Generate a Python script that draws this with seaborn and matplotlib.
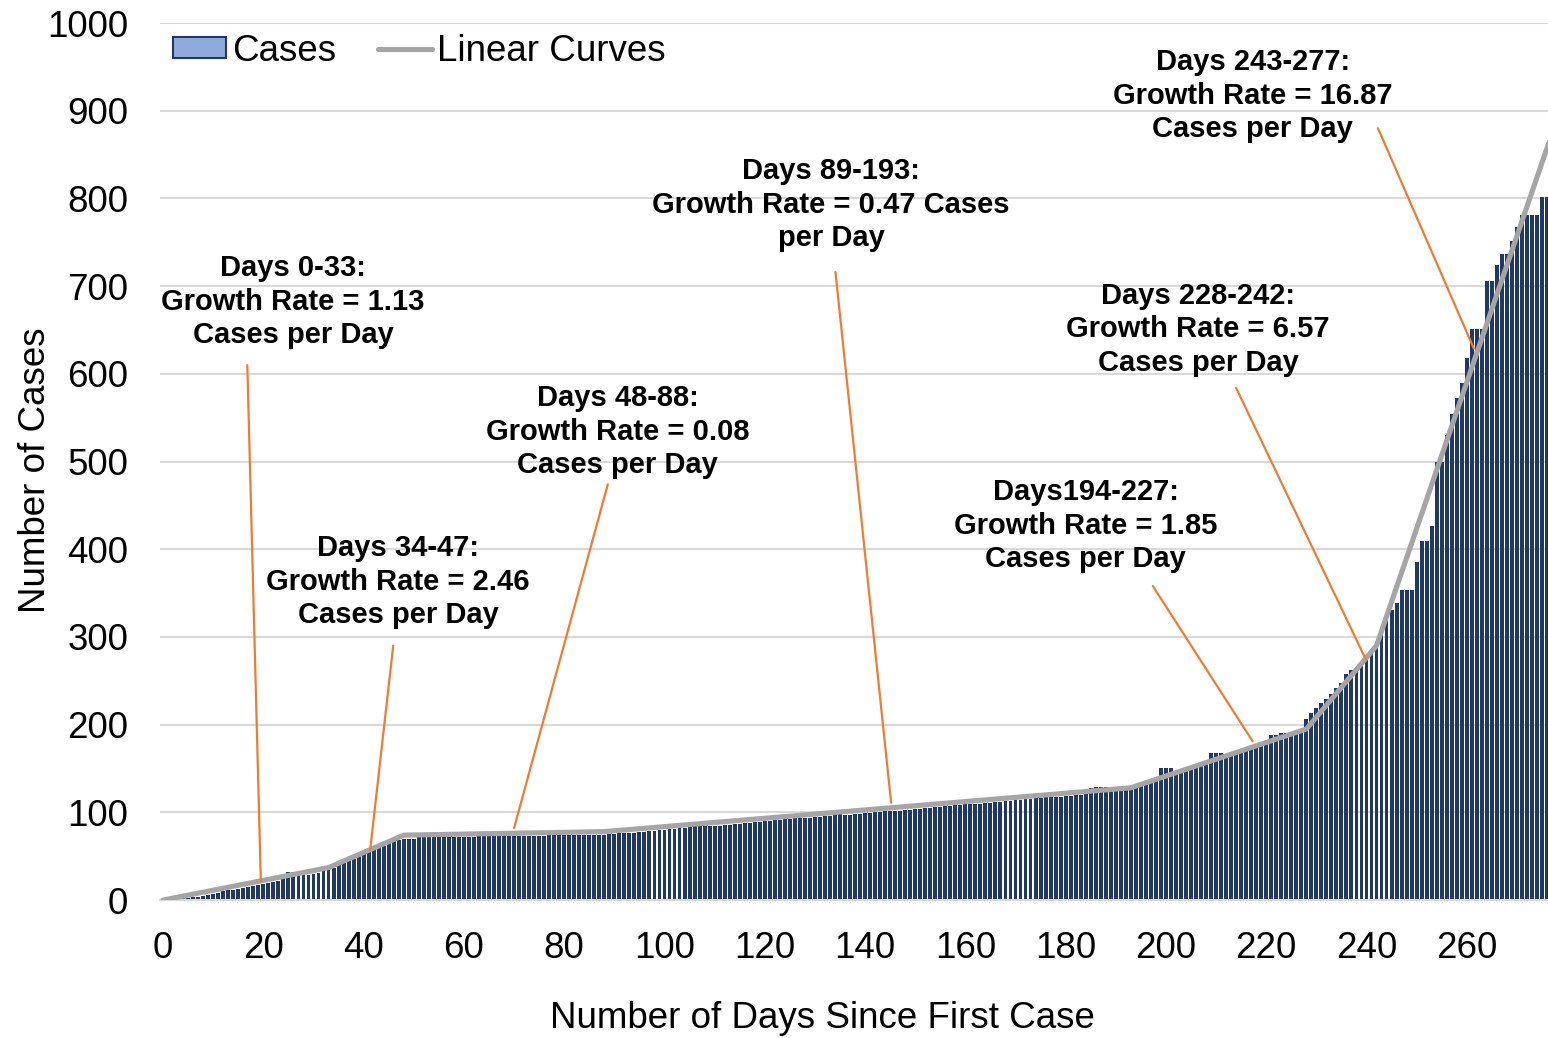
import numpy as np
import pandas as pd
import matplotlib
matplotlib.use('Agg')
import matplotlib.pyplot as plt
import seaborn as sns
from matplotlib.patches import Patch
from matplotlib.lines import Line2D

# cumulative number of cases for each day since the first case (day 0 .. 276)
cases = [
    # days 0-33
    1, 1, 1, 1, 2, 2, 3, 4, 5, 6,
    7, 8, 10, 11, 12, 13, 14, 15, 16, 17,
    18, 20, 21, 22, 24, 32, 32, 32, 28, 29,
    30, 31, 33, 34,
    # days 34-47
    37, 40, 42, 45, 47, 50, 52, 55, 57, 60,
    62, 65, 67, 69,
    # days 48-88
    70, 70, 70, 72, 72, 72, 72, 72, 72, 72,
    72, 72, 72, 72, 72, 73, 73, 73, 73, 73,
    73, 73, 73, 73, 73, 73, 73, 73, 73, 74,
    74, 74, 74, 74, 74, 74, 74, 74, 74, 74,
    74,
    # days 89-193
    75, 75, 76, 76, 77, 77, 78, 78, 79, 79,
    80, 80, 81, 81, 82, 82, 89, 89, 89, 84,
    84, 85, 85, 86, 86, 87, 87, 88, 88, 89,
    89, 90, 90, 91, 91, 92, 92, 93, 93, 94,
    94, 95, 95, 96, 96, 102, 102, 97, 97, 98,
    98, 99, 99, 100, 100, 101, 101, 102, 102, 103,
    103, 104, 104, 105, 105, 106, 106, 107, 107, 108,
    108, 109, 109, 110, 110, 111, 111, 112, 112, 113,
    113, 114, 114, 115, 115, 116, 116, 117, 117, 118,
    118, 119, 119, 120, 120, 121, 128, 129, 129, 129,
    129, 129, 129, 129, 125,
    # days 194-227
    131, 133, 135, 137, 139, 150, 150, 150, 146, 148,
    150, 152, 154, 156, 158, 168, 168, 168, 164, 166,
    168, 170, 171, 173, 175, 177, 179, 188, 188, 190,
    190, 191, 190, 192,
    # days 228-242
    206, 213, 219, 225, 229, 235, 242, 247, 258, 262,
    266, 270, 276, 283, 294,
    # days 243-276
    311, 320, 331, 339, 353, 353, 353, 386, 409, 409,
    427, 499, 499, 530, 554, 573, 590, 618, 651, 651,
    651, 706, 706, 724, 737, 737, 752, 768, 781, 781,
    781, 781, 802, 802,
]
days = list(range(len(cases)))

# break points of the piecewise linear curves
curve_days = [0, 33, 48, 88, 193, 228, 242, 277]
curve_cases = [0, 37, 74, 78, 128, 195, 290, 874]

# growth rate call-outs
labels = [
    'Days 0-33:\nGrowth Rate = 1.13\nCases per Day',
    'Days 34-47:\nGrowth Rate = 2.46\nCases per Day',
    'Days 48-88:\nGrowth Rate = 0.08\nCases per Day',
    'Days 89-193:\nGrowth Rate = 0.47 Cases\nper Day',
    'Days194-227:\nGrowth Rate = 1.85\nCases per Day',
    'Days 228-242:\nGrowth Rate = 6.57\nCases per Day',
    'Days 243-277:\nGrowth Rate = 16.87\nCases per Day',
]
label_xy = [(25.9, 682), (46.9, 363), (90.7, 534), (133.2, 793),
            (184.0, 427), (206.4, 651), (217.3, 917)]
leader_from = [(16.8, 610), (45.9, 290), (88.7, 474), (134.1, 716),
               (197.4, 358), (214.0, 584), (242.3, 880)]
leader_to = [(19.5, 21), (41.3, 57), (70.0, 82), (145.2, 111),
             (217.3, 181), (239.9, 274), (261.4, 629)]

df = pd.DataFrame({'day': days, 'cases': cases})

sns.set_theme(style='white')
plt.rcParams['font.family'] = ['Liberation Sans', 'DejaVu Sans']
plt.rcParams['text.color'] = 'black'
plt.rcParams['axes.labelcolor'] = 'black'
plt.rcParams['xtick.color'] = 'black'
plt.rcParams['ytick.color'] = 'black'

fig = plt.figure(figsize=(15.48, 10.38), dpi=100)
ax = fig.add_axes([0.1034, 0.1329, 0.8966, 0.8449])

# bars for the daily cumulative cases
sns.barplot(data=df, x='day', y='cases', native_scale=True, color='#203864',
            saturation=1, width=0.78, errorbar=None, linewidth=0, ax=ax)

# the fitted linear segments
sns.lineplot(x=curve_days, y=curve_cases, color='#A5A5A5', linewidth=3.7,
             solid_capstyle='round', ax=ax, zorder=3)

# call-outs with orange leader lines
for text, xy in zip(labels, label_xy):
    ax.text(xy[0], xy[1], text, ha='center', va='center', fontsize=21,
            fontweight='bold', linespacing=1.25, color='black', zorder=5)
for start, end in zip(leader_from, leader_to):
    ax.annotate('', xy=end, xytext=start,
                arrowprops=dict(arrowstyle='-', color='#ED7D31', lw=1.6,
                                shrinkA=0, shrinkB=0), zorder=4)

# axes styling
ax.set_xlim(-0.6, 276.2)
ax.set_ylim(0, 1000)
ax.set_yticks(range(0, 1001, 100))
ax.set_xticks(range(0, 261, 20))
ax.set_xticklabels([str(t) for t in range(0, 261, 20)])
ax.yaxis.grid(True, color='#D9D9D9', linewidth=1.5)
ax.xaxis.grid(False)
ax.set_axisbelow(True)
for side in ['left', 'right', 'top']:
    ax.spines[side].set_visible(False)
ax.spines['bottom'].set_color('#D9D9D9')
ax.spines['bottom'].set_linewidth(1.5)
ax.tick_params(axis='y', labelsize=26.5, length=0, pad=23)
ax.tick_params(axis='x', labelsize=26.5, length=0, pad=22)

ax.set_xlabel('Number of Days Since First Case', fontsize=26.5)
ax.xaxis.set_label_coords(0.477, -0.115)
ax.set_ylabel('Number of Cases', fontsize=26.5)
ax.yaxis.set_label_coords(-0.077, 0.49)

# legend
handles = [
    Patch(facecolor='#8FAADC', edgecolor='#203864', linewidth=1.5, label='Cases'),
    Line2D([0], [0], color='#A5A5A5', lw=3.7, solid_capstyle='round', label='Linear Curves'),
]
ax.legend(handles=handles, loc='center left', bbox_to_anchor=(0.0094, 0.968),
          ncol=2, frameon=False, fontsize=26.5, handlelength=1.45, handleheight=0.5,
          handletextpad=0.15, columnspacing=1.15, borderpad=0, borderaxespad=0)

fig.savefig('out.png', dpi=100)
